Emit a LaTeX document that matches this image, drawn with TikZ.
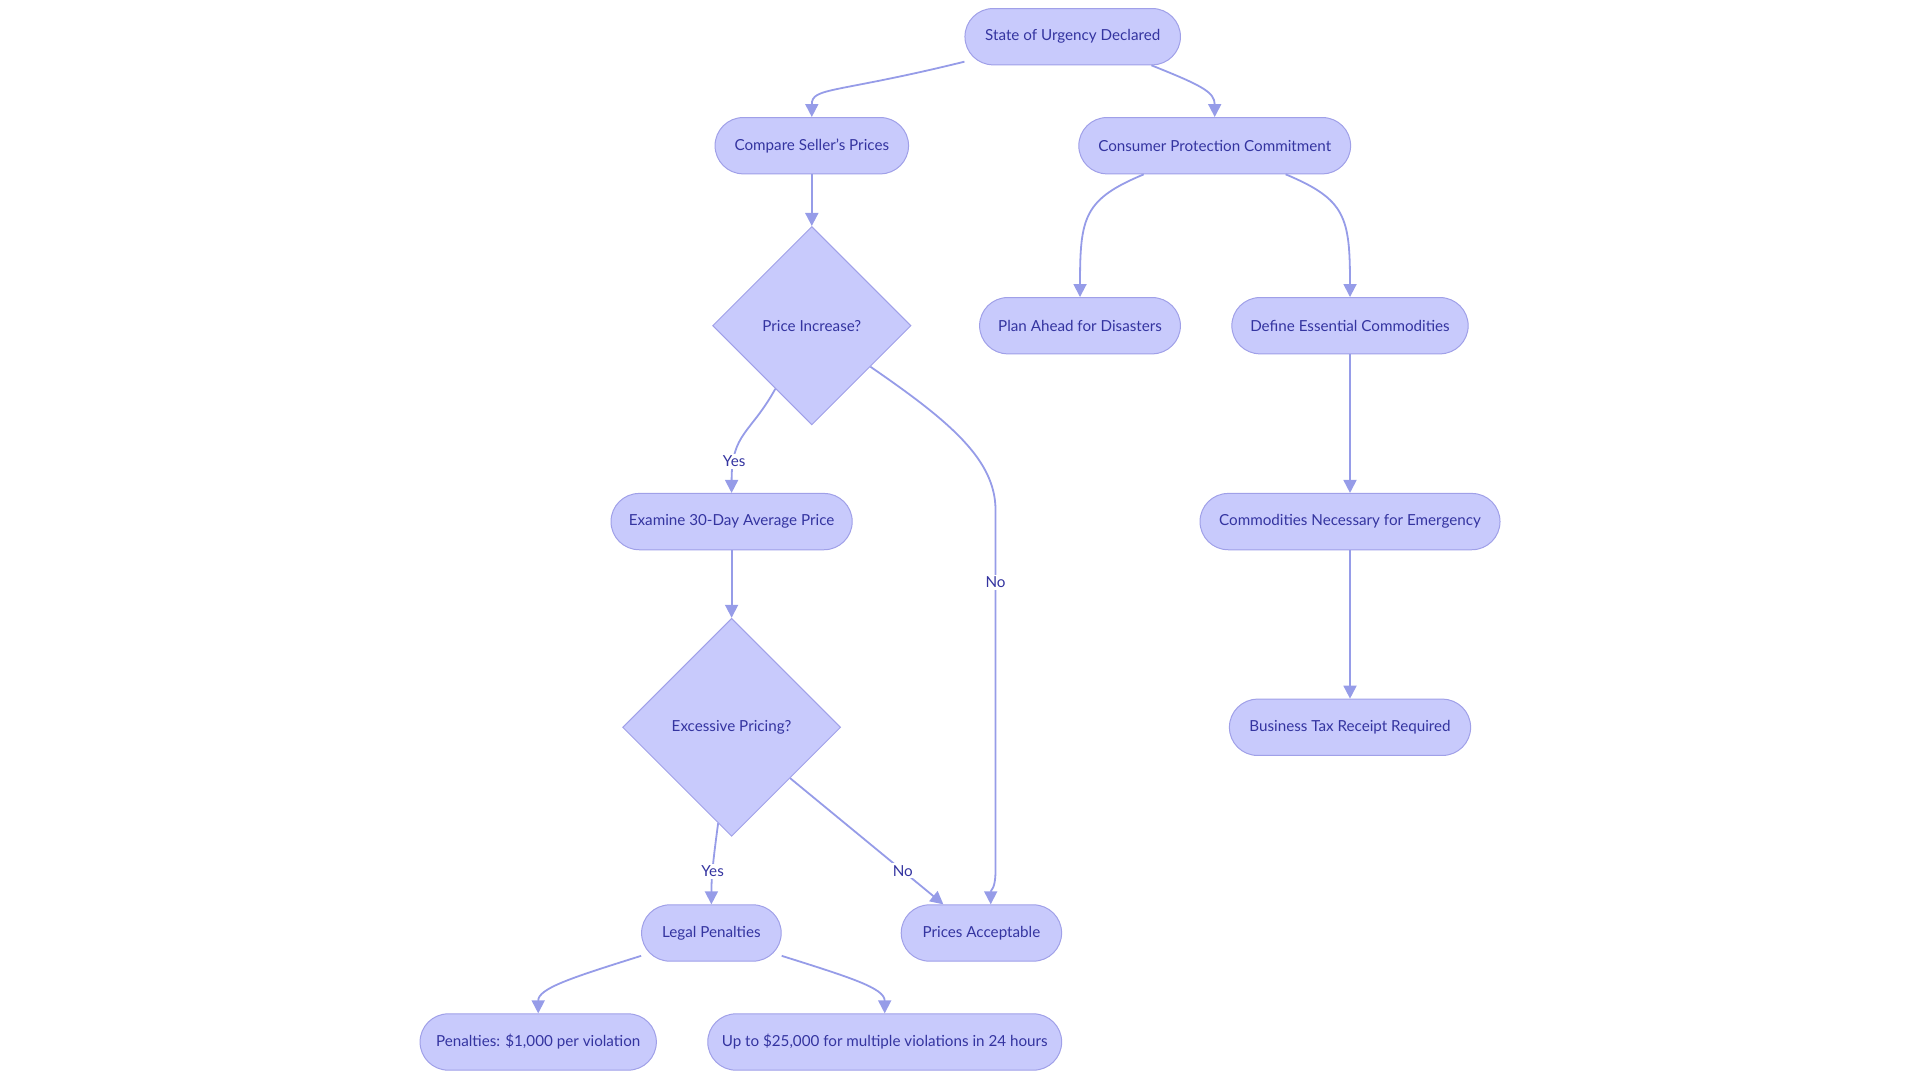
\documentclass[tikz,border=0pt]{standalone}
\usepackage{fontspec}
\setmainfont{Lato}
\usetikzlibrary{shapes.geometric, arrows.meta}

\definecolor{boxfill}{RGB}{200,202,252}
\definecolor{boxline}{RGB}{160,160,232}
\definecolor{flowline}{RGB}{150,156,232}
\definecolor{inktext}{RGB}{52,52,160}

\begin{document}
\begin{tikzpicture}
            [x=0.5pt, y=0.5pt, semithick,
             font=\fontsize{7.6pt}{9pt}\selectfont,
             stepbox/.style={shape=rectangle, rounded corners=14.07pt, draw=boxline, fill=boxfill, line width=0.5pt,
                             text=inktext, minimum height=28.15pt, inner sep=0pt},
             askbox/.style={shape=diamond, draw=boxline, fill=boxfill, line width=0.5pt,
                            text=inktext, inner sep=0pt},
             flow/.style={-{Triangle[length=6.5pt, width=6.5pt]}, draw=flowline, line width=0.9pt},
             tag/.style={fill=white, text=inktext, inner sep=1pt}]
            \useasboundingbox (0,0) rectangle (1920,-1080);

            \node[stepbox, minimum width=107.75pt] (urgency) at (1072.7, -36.7) {State of Urgency Declared};
            \node[stepbox, minimum width=96.75pt] (compare) at (811.8, -145.7) {Compare Seller's Prices};
            \node[stepbox, minimum width=135.9pt] (consumer) at (1214.7, -145.7) {Consumer Protection Commitment};
            \node[askbox, minimum width=99.2pt, minimum height=99.2pt] (increase) at (811.8, -325.7) {Price Increase?};
            \node[stepbox, minimum width=100.4pt] (planahead) at (1080, -325.7) {Plan Ahead for Disasters};
            \node[stepbox, minimum width=118.15pt] (essential) at (1350, -325.7) {Define Essential Commodities};
            \node[stepbox, minimum width=120.6pt] (average) at (731.6, -521.6) {Examine 30-Day Average Price};
            \node[stepbox, minimum width=150pt] (necessary) at (1350, -521.6) {Commodities Necessary for Emergency};
            \node[askbox, minimum width=109pt, minimum height=109pt] (excessive) at (731.6, -727.3) {Excessive Pricing?};
            \node[stepbox, minimum width=120.6pt] (taxreceipt) at (1350, -727.3) {Business Tax Receipt Required};
            \node[stepbox, minimum width=69.8pt] (legal) at (711.4, -933) {Legal Penalties};
            \node[stepbox, minimum width=80.2pt] (acceptable) at (981.4, -933) {Prices Acceptable};
            \node[stepbox, minimum width=118.15pt] (perviolation) at (538.2, -1042) {Penalties: \$1,000 per violation};
            \node[stepbox, minimum width=176.95pt] (multiple) at (884.7, -1042) {Up to \$25,000 for multiple violations in 24 hours};

            \path [flow] (urgency.193) .. controls +(-130,-32) and +(0,30) .. (compare.north);
            \path [flow] (urgency.340) .. controls +(50,-20) and +(0,25) .. (consumer.north);
            \path (compare) edge [flow] (increase);
            \path [flow] (consumer.202) .. controls +(-60,-25) and +(0,80) .. (planahead.north);
            \path [flow] (consumer.338) .. controls +(60,-25) and +(0,80) .. (essential.north);
            \path (essential) edge [flow] (necessary);
            \path (necessary) edge [flow] (taxreceipt);
            \path [flow] (increase.240) .. controls +(-25,-45) and +(0,60) .. node[tag, pos=0.78] {Yes} (average.north);
            \path [flow] (increase.325) .. controls +(80,-55) and +(0,50) .. (995.5,-510)
                -- node[tag, pos=0.2] {No} (995.5,-870) .. controls +(0,-20) and +(0,15) .. (acceptable.72);
            \path (average) edge [flow] (excessive);
            \path [flow] (excessive.262) .. controls +(-4,-30) and +(0,30) .. node[tag, pos=0.6] {Yes} (legal.north);
            \path [flow] (excessive.319) -- node[tag, pos=0.735] {No} (acceptable.143);
            \path [flow] (legal.198) .. controls +(-70,-22) and +(0,25) .. (perviolation.north);
            \path [flow] (legal.342) .. controls +(70,-22) and +(0,25) .. (multiple.north);
        \end{tikzpicture}
\end{document}
